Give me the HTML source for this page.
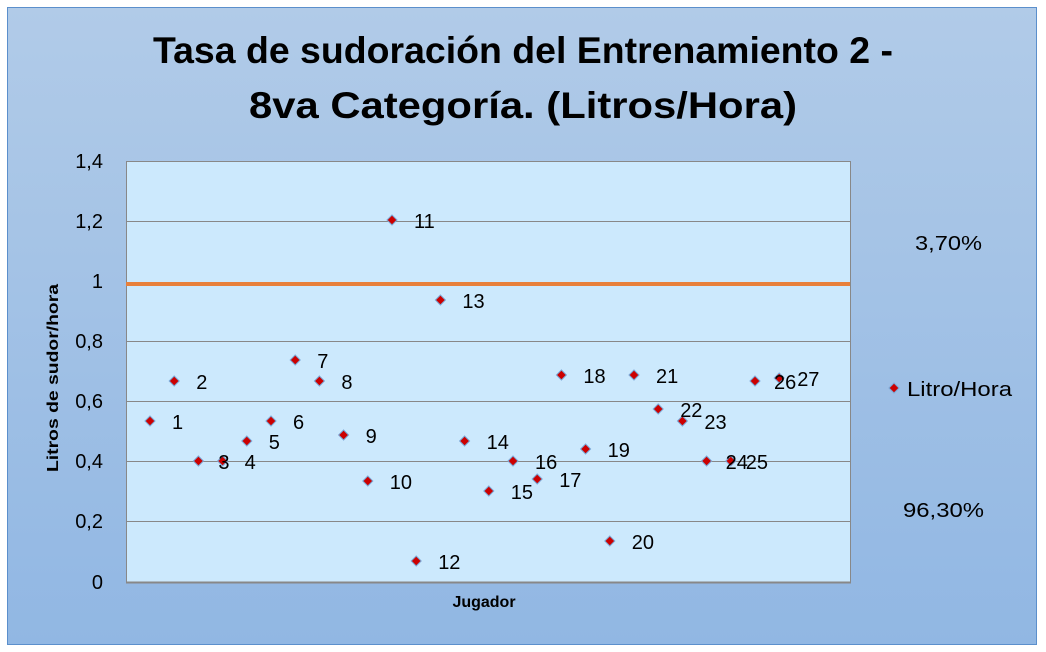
<!DOCTYPE html>
<html><head><meta charset="utf-8"><style>html,body{margin:0;padding:0;background:#fff;width:1046px;height:652px;overflow:hidden}</style></head>
<body>
<svg width="1046" height="652" xmlns="http://www.w3.org/2000/svg" font-family="Liberation Sans, DejaVu Sans, sans-serif">
<defs><linearGradient id="bg" x1="0" y1="0" x2="0" y2="1"><stop offset="0" stop-color="#b1cbe8"/><stop offset="1" stop-color="#91b7e3"/></linearGradient></defs>
<rect x="7.5" y="7.5" width="1029" height="637" fill="url(#bg)" stroke="#5b8fcc" stroke-width="1"/>
<text x="523" y="63" font-size="37" font-weight="bold" text-anchor="middle" textLength="740" lengthAdjust="spacingAndGlyphs">Tasa de sudoración del Entrenamiento 2 -</text>
<text x="523" y="118" font-size="37" font-weight="bold" text-anchor="middle" textLength="548" lengthAdjust="spacingAndGlyphs">8va Categoría. (Litros/Hora)</text>
<rect x="126.5" y="161.5" width="724" height="421" fill="#cce9fd" stroke="#888" stroke-width="1"/>
<g stroke="#888" stroke-width="1">
<line x1="126" y1="221.5" x2="850" y2="221.5"/><line x1="126" y1="341.5" x2="850" y2="341.5"/><line x1="126" y1="401.5" x2="850" y2="401.5"/><line x1="126" y1="461.5" x2="850" y2="461.5"/><line x1="126" y1="521.5" x2="850" y2="521.5"/>
<line x1="126" y1="582.5" x2="851" y2="582.5" stroke-width="2"/>
</g>
<line x1="126" y1="284" x2="850" y2="284" stroke="#e8803a" stroke-width="4"/>
<g font-size="20" text-anchor="end" fill="#000">
<text x="103" y="168">1,4</text><text x="103" y="228">1,2</text><text x="103" y="288">1</text><text x="103" y="348">0,8</text><text x="103" y="408">0,6</text><text x="103" y="468">0,4</text><text x="103" y="528">0,2</text><text x="103" y="589">0</text>
</g>
<text transform="translate(58,378) rotate(-90)" font-size="16" font-weight="bold" text-anchor="middle" textLength="188" lengthAdjust="spacingAndGlyphs">Litros de sudor/hora</text>
<text x="484" y="607" font-size="16" font-weight="bold" text-anchor="middle">Jugador</text>
<g id="pts" fill="#cc0000" stroke="#7aa7d6" stroke-width="1">
</g>
<g font-size="20" fill="#000" id="lbls"></g>
<text x="915" y="250" font-size="20" textLength="67" lengthAdjust="spacingAndGlyphs">3,70%</text>
<text x="903" y="517" font-size="20" textLength="81" lengthAdjust="spacingAndGlyphs">96,30%</text>
<path d="M894 383 l5 5 l-5 5 l-5 -5z" fill="#cc0000" stroke="#7aa7d6"/>
<text x="907" y="396" font-size="20" textLength="105" lengthAdjust="spacingAndGlyphs">Litro/Hora</text>
<script>
var ys=[421,381,461,461,441,421,360,381,435,481,220,561,300,441,491,461,479,375,449,541,375,409,421,461,461,381,378];
var off={3:20,24:19,25:15,26:19,27:18};
var p=document.getElementById('pts'),l=document.getElementById('lbls'),ns='http://www.w3.org/2000/svg';
ys.forEach(function(y,i){var x=150+i*24.2;
var d=document.createElementNS(ns,'path');d.setAttribute('d','M'+x+' '+(y-5)+' l5 5 l-5 5 l-5 -5z');p.appendChild(d);
var t=document.createElementNS(ns,'text');t.setAttribute('x',x+(off[i+1]!==undefined?off[i+1]:22));t.setAttribute('y',y+8);t.textContent=(i+1);l.appendChild(t);});
</script>
</svg>
</body></html>
